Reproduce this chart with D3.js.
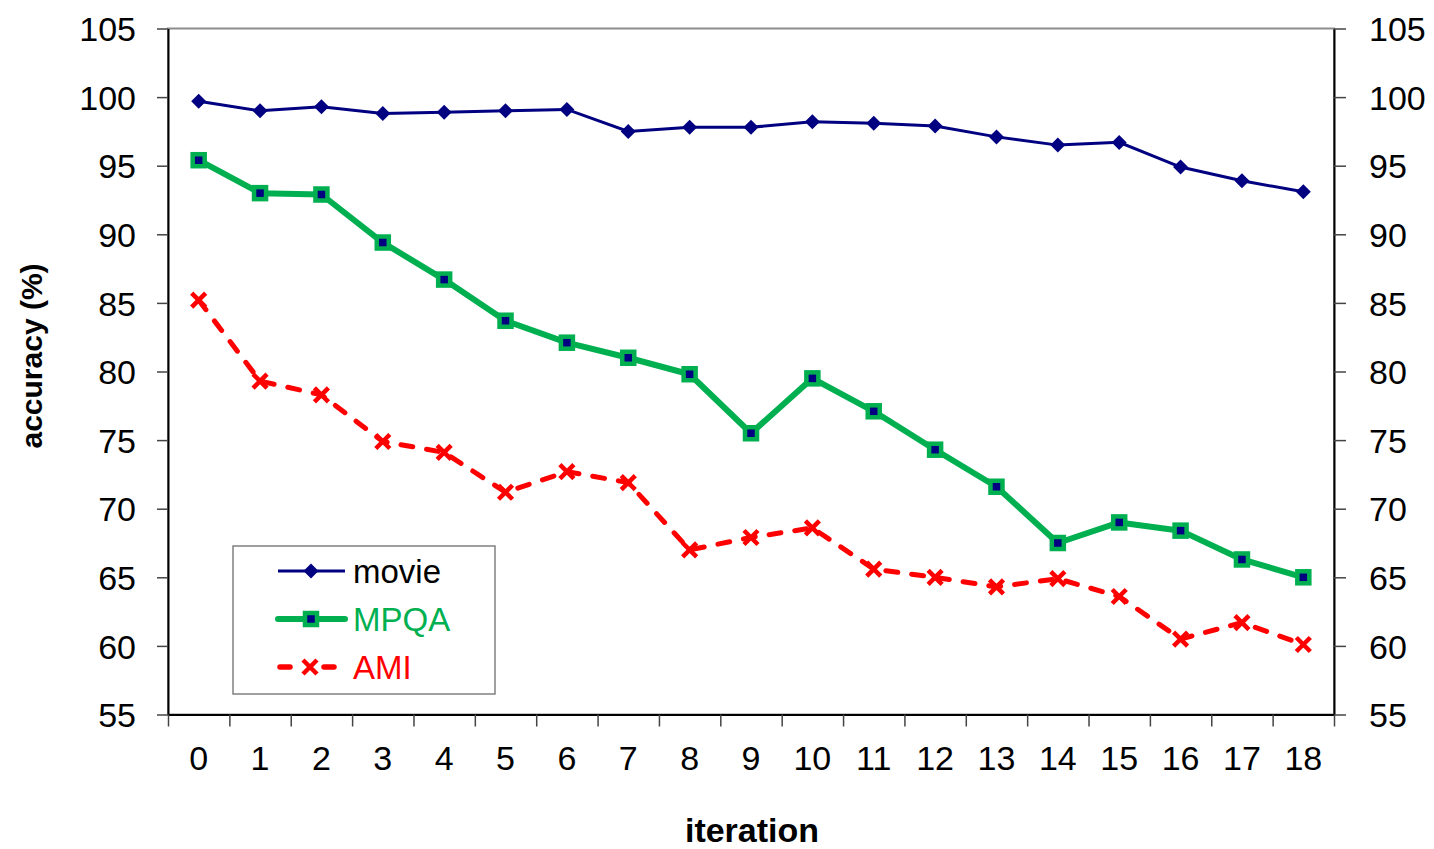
<!DOCTYPE html>
<html>
<head>
<meta charset="utf-8">
<script src="https://cdn.jsdelivr.net/npm/d3@7"></script>
<style>
  html, body { margin: 0; padding: 0; background: #fff; }
  svg { display: block; font-family: Arial, "Liberation Sans", sans-serif; }
</style>
</head>
<body>
<svg id="chart" width="1434" height="849"></svg>
<script>
// Iterations on the x axis
const iterations = ["0","1","2","3","4","5","6","7","8","9","10","11","12","13","14","15","16","17","18"];

// Accuracy (%) per iteration for each data set
const movie = [99.7, 99.0, 99.3, 98.8, 98.9, 99.0, 99.1, 97.5, 97.8, 97.8, 98.2, 98.1, 97.9, 97.1, 96.5, 96.7, 94.9, 93.9, 93.1];
const mpqa  = [95.4, 93.0, 92.9, 89.4, 86.7, 83.7, 82.1, 81.0, 79.8, 75.5, 79.5, 77.1, 74.3, 71.6, 67.5, 69.0, 68.4, 66.3, 65.0];
const ami   = [85.2, 79.3, 78.3, 74.9, 74.1, 71.2, 72.7, 71.9, 67.0, 67.9, 68.6, 65.6, 65.0, 64.3, 64.9, 63.6, 60.5, 61.7, 60.1];

// Y axis ticks
const yTicks = [55, 60, 65, 70, 75, 80, 85, 90, 95, 100, 105];

const seriesNames = ["movie", "MPQA", "AMI"];

const svg = d3.select("#chart");

const plot = { left: 168, right: 1334, top: 28.5, bottom: 714.5 };

const x = d3.scaleBand().domain(iterations).range([plot.left, plot.right]).padding(0);
const y = d3.scaleLinear().domain([55, 105]).range([plot.bottom, plot.top]);

// Plot area frame (grey)
svg.append("rect")
  .attr("x", plot.left).attr("y", plot.top)
  .attr("width", plot.right - plot.left).attr("height", plot.bottom - plot.top)
  .attr("fill", "none").attr("stroke", "#8c8c8c").attr("stroke-width", 2);

const tickFont = 34;

// Left axis
const leftAxis = svg.append("g")
  .attr("transform", `translate(${plot.left},0)`)
  .call(d3.axisLeft(y).tickValues(yTicks).tickSize(11).tickSizeOuter(0).tickPadding(21));
// Right axis
const rightAxis = svg.append("g")
  .attr("transform", `translate(${plot.right},0)`)
  .call(d3.axisRight(y).tickValues(yTicks).tickSize(12).tickSizeOuter(0).tickPadding(23));

[leftAxis, rightAxis].forEach(g => {
  g.select(".domain").attr("stroke", "#000").attr("stroke-width", 2);
  g.selectAll(".tick line").attr("stroke", "#444").attr("stroke-width", 1.5);
  g.selectAll(".tick text").attr("font-size", tickFont).attr("fill", "#000")
    .attr("font-family", "Arial, 'Liberation Sans', sans-serif").attr("dy", "0.36em");
});

// Bottom axis: boundary ticks between iterations
const boundaries = d3.range(iterations.length + 1);
const xb = d3.scaleLinear().domain([0, iterations.length]).range([plot.left, plot.right]);
const bottomTicks = svg.append("g")
  .attr("transform", `translate(0,${plot.bottom})`)
  .call(d3.axisBottom(xb).tickValues(boundaries).tickSize(12).tickSizeOuter(0).tickFormat(""));
bottomTicks.select(".domain").attr("stroke", "#000").attr("stroke-width", 2);
bottomTicks.selectAll(".tick line").attr("stroke", "#444").attr("stroke-width", 1.5);

// Bottom axis labels at band centres
const bottomLabels = svg.append("g")
  .attr("transform", `translate(0,${plot.bottom})`)
  .call(d3.axisBottom(x).tickSize(0).tickPadding(31));
bottomLabels.select(".domain").remove();
bottomLabels.selectAll(".tick text").attr("font-size", tickFont).attr("fill", "#000")
  .attr("font-family", "Arial, 'Liberation Sans', sans-serif");

// Axis titles
svg.append("text")
  .attr("transform", "translate(42,356) rotate(-90)")
  .attr("text-anchor", "middle")
  .attr("font-size", 30).attr("font-weight", "bold").attr("fill", "#000")
  .text("accuracy (%)");

svg.append("text")
  .attr("x", 752).attr("y", 842)
  .attr("text-anchor", "middle")
  .attr("font-size", 34).attr("font-weight", "bold").attr("fill", "#000")
  .text("iteration");

const cx = (d, i) => x(iterations[i]) + x.bandwidth() / 2;
const line = d3.line().x((d, i) => cx(d, i)).y(d => y(d));

// Marker drawers
const diamond = (g, px, py) => g.append("path")
  .attr("d", `M${px},${py - 7.5}L${px + 7.5},${py}L${px},${py + 7.5}L${px - 7.5},${py}Z`)
  .attr("fill", "#000080");
const square = (g, px, py) => g.append("rect")
  .attr("x", px - 6).attr("y", py - 6).attr("width", 12).attr("height", 12)
  .attr("fill", "#000080").attr("stroke", "#00b050").attr("stroke-width", 4.5);
const cross = (g, px, py) => g.append("path")
  .attr("d", `M${px - 7},${py - 7}L${px + 7},${py + 7}M${px - 7},${py + 7}L${px + 7},${py - 7}`)
  .attr("stroke", "#ff0000").attr("stroke-width", 4.5).attr("fill", "none");

// AMI (dashed red)
svg.append("path").datum(ami)
  .attr("d", line).attr("fill", "none")
  .attr("stroke", "#ff0000").attr("stroke-width", 5)
  .attr("stroke-dasharray", "12 14").attr("stroke-linecap", "round");
const amiG = svg.append("g");
ami.forEach((d, i) => cross(amiG, cx(d, i), y(d)));

// MPQA (thick green)
svg.append("path").datum(mpqa)
  .attr("d", line).attr("fill", "none")
  .attr("stroke", "#00b050").attr("stroke-width", 6).attr("stroke-linejoin", "round");
const mpqaG = svg.append("g");
mpqa.forEach((d, i) => square(mpqaG, cx(d, i), y(d)));

// movie (navy)
svg.append("path").datum(movie)
  .attr("d", line).attr("fill", "none")
  .attr("stroke", "#000080").attr("stroke-width", 3);
const movieG = svg.append("g");
movie.forEach((d, i) => diamond(movieG, cx(d, i), y(d)));

// Legend
const legend = svg.append("g");
legend.append("rect")
  .attr("x", 233).attr("y", 546).attr("width", 262).attr("height", 148)
  .attr("fill", "#fff").attr("stroke", "#808080").attr("stroke-width", 1.5);

const rows = [
  { name: seriesNames[0], y: 571, color: "#000080", text: "#000" },
  { name: seriesNames[1], y: 619, color: "#00b050", text: "#00b050" },
  { name: seriesNames[2], y: 667, color: "#ff0000", text: "#ff0000" }
];
const lx1 = 278, lx2 = 345, lmx = 311;

legend.append("line").attr("x1", lx1).attr("x2", lx2).attr("y1", rows[0].y).attr("y2", rows[0].y)
  .attr("stroke", "#000080").attr("stroke-width", 3);
diamond(legend, lmx, rows[0].y);

legend.append("line").attr("x1", lx1).attr("x2", lx2).attr("y1", rows[1].y).attr("y2", rows[1].y)
  .attr("stroke", "#00b050").attr("stroke-width", 6).attr("stroke-linecap", "round");
square(legend, lmx, rows[1].y);

// AMI legend sample: dash, cross, dash
legend.append("line").attr("x1", 280).attr("x2", 290).attr("y1", rows[2].y).attr("y2", rows[2].y)
  .attr("stroke", "#ff0000").attr("stroke-width", 5.5).attr("stroke-linecap", "round");
legend.append("line").attr("x1", 324).attr("x2", 334).attr("y1", rows[2].y).attr("y2", rows[2].y)
  .attr("stroke", "#ff0000").attr("stroke-width", 5.5).attr("stroke-linecap", "round");
cross(legend, 310, rows[2].y);

rows.forEach(r => legend.append("text")
  .attr("x", 353).attr("y", r.y).attr("dy", "0.36em")
  .attr("font-size", 33).attr("fill", r.text)
  .text(r.name));
</script>
</body>
</html>
